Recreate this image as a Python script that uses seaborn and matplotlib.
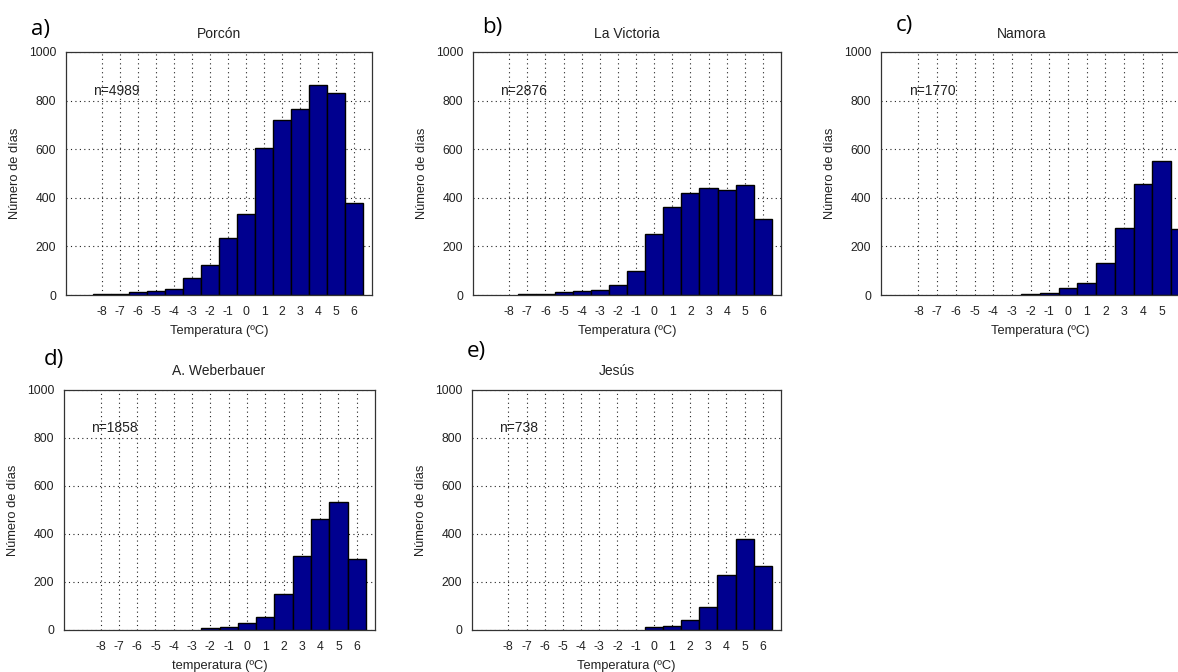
import numpy as np
import pandas as pd
import matplotlib
matplotlib.use("Agg")
import matplotlib.pyplot as plt
import seaborn as sns

# Temperature classes (°C)
temperatura = [-8, -7, -6, -5, -4, -3, -2, -1, 0, 1, 2, 3, 4, 5, 6]

# Days per temperature class at each station
porcon = [3, 3, 13, 17, 25, 70, 122, 236, 333, 605, 719, 767, 863, 833, 380]
la_victoria = [0, 4, 4, 12, 17, 21, 43, 100, 252, 362, 420, 441, 432, 454, 314]
namora = [0, 0, 0, 0, 0, 0, 4, 8, 28, 48, 130, 274, 458, 550, 270]
weberbauer = [0, 0, 0, 0, 0, 0, 7, 13, 30, 56, 148, 309, 463, 535, 297]
jesus = [0, 0, 0, 0, 0, 0, 0, 0, 11, 15, 40, 94, 229, 379, 265]

estaciones = ["Porcón", "La Victoria", "Namora", "A. Weberbauer", "Jesús"]
letras = ["a)", "b)", "c)", "d)", "e)"]
n_texto = ["n=4989", "n=2876", "n=1770", "n=1858", "n=738"]
xlabels = ["Temperatura (ºC)", "Temperatura (ºC)", "Temperatura (ºC)",
           "temperatura (ºC)", "Temperatura (ºC)"]
conteos = [porcon, la_victoria, namora, weberbauer, jesus]

sns.set_theme(style="white")
plt.rcParams["font.family"] = ["Liberation Sans", "DejaVu Sans"]

W, H = 1178, 672
fig = plt.figure(figsize=(W / 100, H / 100), dpi=100)

# axes boxes in pixels: left, top, right, bottom
cajas = [
    (66, 52, 372, 295),
    (473, 52, 781, 295),
    (881, 52, 1199, 295),
    (64, 390, 375, 630),
    (472, 390, 781, 630),
]
# panel letter centres (pixels), title centres (pixels)
letra_pos = [(40, 29), (492, 28), (904, 26), (54, 359), (476, 352)]
titulo_pos = [(219, 34), (627, 34), (1022, 34), (219, 371), (617, 371)]

color_barra = "#00008F"
texto = "#222222"

for i in range(5):
    l, t, r, b = cajas[i]
    ax = fig.add_axes([l / W, 1 - b / H, (r - l) / W, (b - t) / H])
    df = pd.DataFrame({"temp": temperatura, "dias": conteos[i]})
    df = df[df["dias"] > 0]
    sns.histplot(data=df, x="temp", weights="dias", discrete=True, shrink=1,
                 color=color_barra, edgecolor="black", linewidth=1.0,
                 alpha=1, ax=ax)
    ax.set_xlim(-10, 7)
    ax.set_ylim(0, 1000)
    ax.set_xticks(temperatura)
    ax.set_xticklabels([str(v) for v in temperatura])
    ax.set_yticks([0, 200, 400, 600, 800, 1000])
    ax.tick_params(axis="both", labelsize=8.8, length=3, direction="in",
                   colors=texto)
    ax.tick_params(axis="x", pad=8)
    ax.tick_params(axis="y", pad=7)
    ax.grid(True, linestyle=(0, (1, 3)), color="#222222", linewidth=0.8)
    ax.set_axisbelow(True)
    for s in ax.spines.values():
        s.set_color("#333333")
        s.set_linewidth(0.9)
    ax.set_xlabel(xlabels[i], fontsize=9.3, color=texto, labelpad=5)
    ax.set_ylabel("Número de días", fontsize=9.3, color=texto, labelpad=6)
    ax.text(-8.5, 840, n_texto[i], fontsize=10, color=texto,
            ha="left", va="center")
    cx, cy = titulo_pos[i]
    fig.text(cx / W, 1 - cy / H, estaciones[i], fontsize=10,
             color=texto, ha="center", va="center")
    lx, ly = letra_pos[i]
    fig.text(lx / W, 1 - ly / H, letras[i], fontsize=16,
             family=["Open Sans", "DejaVu Sans"], color="black",
             ha="center", va="center")

fig.savefig("out.png", dpi=100, facecolor="white")
